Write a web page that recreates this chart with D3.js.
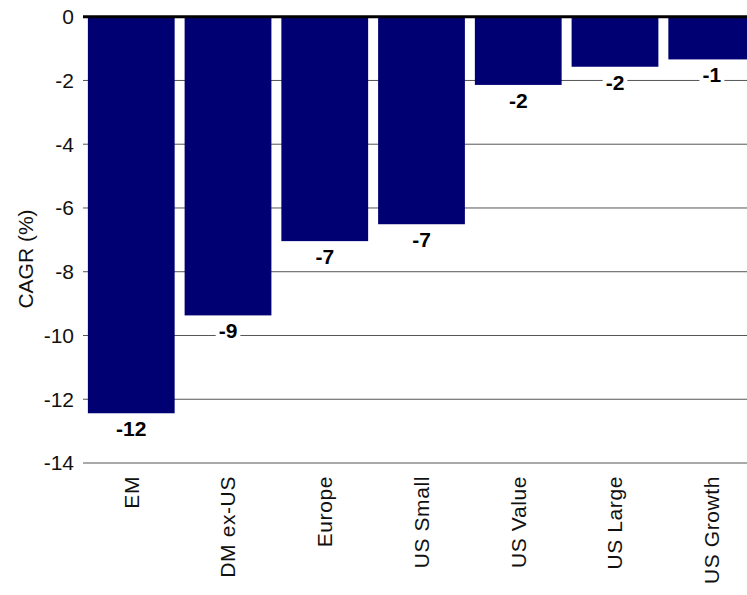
<html>
<head>
<meta charset="UTF-8"/>
<script src="https://d3js.org/d3.v7.min.js"></script>
<title>CAGR</title>
<style>
body { margin: 0; background: #fff; }
text { font-family: "Liberation Sans", Arial, sans-serif; }
</style>
</head>
<body>
<svg id='big' width=747 height=595></svg>
<script>
'use strict';

// data
var categories = ['EM', 'DM ex-US', 'Europe', 'US Small', 'US Value', 'US Large', 'US Growth'];
var cagr = [-12.44, -9.37, -7.04, -6.51, -2.14, -1.57, -1.34];
var yTicks = [0, -2, -4, -6, -8, -10, -12, -14];

var svg = d3.select('#big');

var sx = d3.scaleBand()
	.domain(categories)
	.range([84, 759])
	.paddingInner(0.103)
	.paddingOuter(0.04);

var sy = d3.scaleLinear().domain([0, -14]).range([16.7, 463]);

// grid lines
svg.selectAll('.rowline')
	.data(yTicks.filter(function(d){ return d != 0; }))
	.enter()
	.append('line')
	.attr('class', 'rowline')
	.attr('x1', 83)
	.attr('x2', 747)
	.attr('y1', function(d){ return sy(d); })
	.attr('y2', function(d){ return sy(d); })
	.attr('stroke', '#555')
	.attr('stroke-width', 1);

// tick labels
svg.selectAll('.ytick')
	.data(yTicks)
	.enter()
	.append('text')
	.attr('class', 'ytick')
	.attr('x', 74)
	.attr('y', function(d){ return sy(d); })
	.attr('dy', '0.35em')
	.attr('text-anchor', 'end')
	.attr('font-size', 21)
	.attr('fill', '#111')
	.text(function(d){ return d; });

svg.append('text')
	.attr('transform', 'translate(33,259) rotate(-90)')
	.attr('text-anchor', 'middle')
	.attr('font-size', 21)
	.attr('fill', '#111')
	.text('CAGR (%)');

var rows = categories.map(function(c, i){ return {cat: c, v: cagr[i]}; });

// bars
svg.selectAll('.bar')
	.data(rows)
	.enter()
	.append('rect')
	.attr('class', 'bar')
	.attr('x', function(d){ return sx(d.cat); })
	.attr('y', sy(0))
	.attr('width', sx.bandwidth())
	.attr('height', function(d){ return sy(d.v) - sy(0); })
	.attr('fill', '#000073');

// zero line
svg.append('line')
	.attr('x1', 83)
	.attr('x2', 747)
	.attr('y1', sy(0))
	.attr('y2', sy(0))
	.attr('stroke', '#000')
	.attr('stroke-width', 3);

// value labels with white backing
var lab = svg.selectAll('.vlab')
	.data(rows)
	.enter()
	.append('g')
	.attr('class', 'vlab')
	.attr('transform', function(d){
		return 'translate(' + (sx(d.cat) + sx.bandwidth() / 2) + ',' + (sy(d.v) + 23) + ')';
	});

lab.append('text')
	.attr('text-anchor', 'middle')
	.attr('font-size', 21)
	.attr('font-weight', 'bold')
	.attr('fill', '#000')
	.text(function(d){ return Math.round(d.v); });

lab.insert('rect', 'text')
	.each(function(){
		var bb = this.parentNode.querySelector('text').getBBox();
		d3.select(this)
			.attr('x', bb.x - 3)
			.attr('y', bb.y + 2)
			.attr('width', bb.width + 6)
			.attr('height', bb.height - 4)
			.attr('fill', '#fff');
	});

// category labels
svg.selectAll('.xlab')
	.data(categories)
	.enter()
	.append('text')
	.attr('class', 'xlab')
	.attr('transform', function(d){
		return 'translate(' + (sx(d) + sx.bandwidth() / 2) + ',476) rotate(-90)';
	})
	.attr('dy', '0.35em')
	.attr('text-anchor', 'end')
	.attr('font-size', 21)
	.attr('letter-spacing', 0.6)
	.attr('fill', '#111')
	.text(function(d){ return d; });
</script>
</body>
</html>
